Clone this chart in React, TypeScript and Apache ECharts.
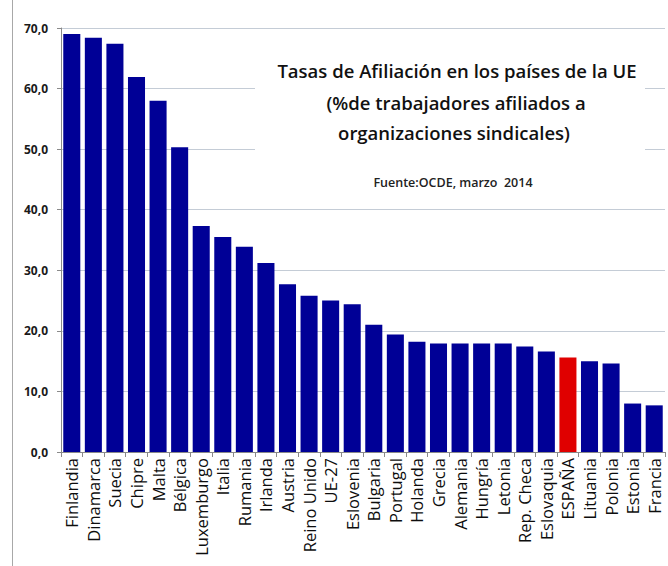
import React, { useEffect, useRef } from "react";
import * as echarts from "echarts";

const countries = [
  "Finlandia", "Dinamarca", "Suecia", "Chipre", "Malta", "Bélgica", "Luxemburgo",
  "Italia", "Rumania", "Irlanda", "Austria", "Reino Unido", "UE-27", "Eslovenia",
  "Bulgaria", "Portugal", "Holanda", "Grecia", "Alemania", "Hungría", "Letonia",
  "Rep. Checa", "Eslovaquia", "ESPAÑA", "Lituania", "Polonia", "Estonia", "Francia",
];
const rates = [
  69.0, 68.4, 67.4, 61.9, 58.0, 50.3, 37.3,
  35.5, 33.9, 31.2, 27.7, 25.8, 25.0, 24.4,
  21.0, 19.4, 18.2, 17.9, 17.9, 17.9, 17.9,
  17.4, 16.6, 15.6, 15.0, 14.6, 8.0, 7.7,
];
const highlight = "ESPAÑA";
const yTicks = [0, 10, 20, 30, 40, 50, 60, 70];
const titleLines = [
  "Tasas de Afiliación en los países de la UE",
  "(%de trabajadores afiliados a",
  "organizaciones sindicales)",
];
const sourceNote = "Fuente:OCDE, marzo  2014";

const FONT = "'Open Sans', 'Noto Sans', sans-serif";

export default function App() {
  const ref = useRef<HTMLDivElement>(null);
  useEffect(() => {
    if (!ref.current) return;
    const chart = echarts.init(ref.current, undefined, { renderer: "svg" });
    chart.setOption({
      animation: false,
      backgroundColor: "#ffffff",
      grid: { left: 61, right: 3, top: 28, bottom: 114, containLabel: false },
      xAxis: {
        type: "category",
        data: countries,
        axisLine: { lineStyle: { color: "#8a8a8a", width: 1 } },
        axisTick: { show: true, length: 5, lineStyle: { color: "#8a8a8a" } },
        axisLabel: {
          rotate: 90,
          interval: 0,
          color: "#0d0d0d",
          fontFamily: FONT,
          fontSize: 16.5,
          margin: 6,
        },
      },
      yAxis: {
        type: "value",
        min: yTicks[0],
        max: yTicks[yTicks.length - 1],
        interval: 10,
        axisLine: { show: true, lineStyle: { color: "#8a8a8a", width: 1 } },
        axisTick: { show: true, length: 4, lineStyle: { color: "#8a8a8a" } },
        splitLine: { show: true, lineStyle: { color: "#c4ccd6", width: 1 } },
        axisLabel: {
          color: "#1a1a1a",
          fontFamily: FONT,
          fontSize: 12,
          fontWeight: "bold",
          margin: 13,
          formatter: (v: number) => v.toFixed(1).replace(".", ","),
        },
      },
      series: [
        {
          type: "bar",
          barCategoryGap: "21%",
          data: rates.map((v, i) => ({
            value: v,
            itemStyle: { color: countries[i] === highlight ? "#e00000" : "#000096" },
          })),
        },
      ],
      graphic: {
        elements: [
          {
            type: "rect",
            shape: { x: 255, y: 40, width: 390, height: 160 },
            style: { fill: "#ffffff" },
            z: 100,
          },
          {
            type: "rect",
            shape: { x: 12, y: 0, width: 1, height: 566 },
            style: { fill: "#a8a8a8" },
            z: 100,
          },
          {
            type: "text",
            x: 457, y: 70,
            style: {
              text: titleLines[0], align: "center", verticalAlign: "middle",
              font: `600 18.5px ${FONT}`, fill: "#111111",
            },
            z: 101,
          },
          {
            type: "text",
            x: 456, y: 102,
            style: {
              text: titleLines[1], align: "center", verticalAlign: "middle",
              font: `600 18.5px ${FONT}`, fill: "#111111",
            },
            z: 101,
          },
          {
            type: "text",
            x: 454, y: 132,
            style: {
              text: titleLines[2], align: "center", verticalAlign: "middle",
              font: `600 18.5px ${FONT}`, fill: "#111111",
            },
            z: 101,
          },
          {
            type: "text",
            x: 453, y: 182,
            style: {
              text: sourceNote, align: "center", verticalAlign: "middle",
              font: `600 12.5px ${FONT}`, fill: "#222222",
            },
            z: 101,
          },
        ],
      },
    });
    return () => chart.dispose();
  }, []);
  return <div ref={ref} style={{ width: 668, height: 566, position: "absolute", left: 0, top: 0 }} />;
}
